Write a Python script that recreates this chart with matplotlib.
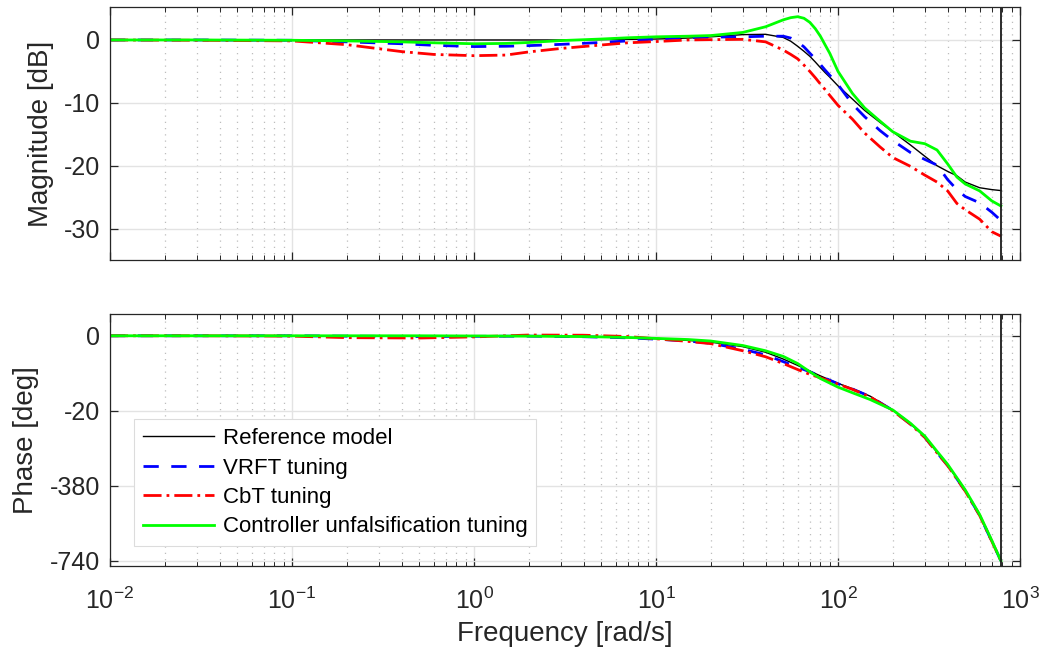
import numpy as np
import matplotlib
matplotlib.use("Agg")
import matplotlib.pyplot as plt
from matplotlib.ticker import LogLocator, NullLocator, NullFormatter, FixedLocator

plt.rcParams['font.family'] = ['Liberation Sans', 'DejaVu Sans']
plt.rcParams['axes.unicode_minus'] = False
plt.rcParams['mathtext.fontset'] = 'custom'
plt.rcParams['mathtext.rm'] = 'Liberation Sans'

# ---- data (rad/s, dB, deg) ----
w_mag = [0.01, 0.03, 0.1, 0.2, 0.4, 0.6, 1, 1.5, 2, 3, 5, 7, 10, 15, 20, 30, 40, 50,
         55, 60, 65, 70, 75, 80, 85, 90, 100, 120, 140, 170, 200, 250, 300, 350, 400,
         450, 500, 600, 700, 785]
mag_ref = [0, 0, 0, 0, 0, 0, 0, 0, 0, 0, 0.05, 0.1, 0.15, 0.3, 0.5, 0.85, 0.9, 0.4,
           -0.2, -1.0, -1.8, -2.6, -3.5, -4.4, -5.2, -5.9, -7.3, -9.4, -11.2, -13.1,
           -14.6, -16.7, -18.5, -20.0, -20.9, -21.6, -22.6, -23.5, -23.8, -23.95]
mag_vrft = [0, 0, -0.05, -0.3, -0.6, -0.85, -1.05, -1.0, -0.9, -0.7, -0.4, -0.15, 0.15,
            0.35, 0.45, 0.5, 0.6, 0.6, 0.3, -0.3, -1.1, -2.1, -3.0, -3.9, -4.8, -5.6,
            -7.1, -10.2, -12.2, -14.4, -16.0, -17.9, -19.0, -19.9, -22.2, -23.8, -24.9,
            -25.9, -27.4, -28.7]
mag_cbt = [0, -0.05, -0.15, -0.75, -1.85, -2.3, -2.5, -2.4, -1.9, -1.35, -0.8, -0.45,
           -0.25, 0, 0.05, 0.1, -0.3, -1.6, -2.3, -3.0, -4.0, -5.0, -6.0, -7.0, -7.9,
           -8.8, -10.4, -12.6, -14.8, -17.0, -18.7, -20.1, -21.5, -22.6, -24.0, -26.0,
           -27.0, -28.5, -30.5, -31.2]
mag_cu = [0, 0, -0.05, -0.15, -0.3, -0.45, -0.6, -0.55, -0.4, -0.1, 0.15, 0.35, 0.5,
          0.6, 0.7, 1.2, 2.1, 3.2, 3.55, 3.7, 3.45, 2.8, 1.8, 0.6, -0.8, -2.1, -5.0,
          -8.5, -10.8, -12.9, -14.6, -16.1, -16.5, -17.5, -19.7, -21.8, -22.9, -24.0,
          -25.6, -26.4]

w_ph = [0.01, 0.03, 0.1, 0.2, 0.5, 1, 2, 4, 7, 10, 15, 20, 30, 40, 50, 60, 70, 80, 100,
        120, 150, 200, 250, 300, 350, 400, 500, 600, 700, 785]
ph_ref = [0, 0, 0, 0, -0.02, -0.05, -0.1, -0.25, -0.5, -0.8, -1.24, -1.7, -2.9, -4.4,
          -6.2, -7.9, -9.4, -10.7, -12.7, -14.1, -16.1, -19.8, -83, -146, -220, -281,
          -404, -521, -646, -740]
ph_vrft = [0, 0, 0, -0.1, -0.2, -0.15, -0.1, -0.25, -0.55, -0.9, -1.4, -2.0, -3.6, -5.1,
           -6.9, -8.4, -9.6, -10.8, -12.8, -14.2, -16.2, -19.9, -84, -147, -221, -282,
           -405, -522, -647, -740]
ph_cbt = [0, 0, -0.1, -0.5, -0.6, -0.3, 0.2, 0.15, -0.2, -0.8, -1.5, -2.1, -4.0, -5.6,
          -7.4, -9.0, -10.3, -11.2, -12.9, -14.3, -16.3, -20.0, -85, -148, -222, -283,
          -406, -523, -647, -740]
ph_cu = [0, 0, 0, 0, 0, -0.05, -0.1, -0.2, -0.45, -0.7, -1.0, -1.4, -2.6, -4.0, -5.5,
         -7.4, -9.6, -11.4, -13.7, -15.2, -17.0, -19.8, -80, -142, -215, -277, -400,
         -518, -643, -740]

w_nyq = 785
labels = ['Reference model', 'VRFT tuning', 'CbT tuning',
          'Controller unfalsification tuning']
ph_ticks = [-740, -380, -20, 0]


# phase axis is stretched: 0..-20 takes one tick step, then 360 deg per step
def ph_fwd(y):
    y = np.asarray(y, float)
    return np.where(y >= -20, y / 20.0, -1 + (y + 20) / 360.0)


def ph_inv(u):
    u = np.asarray(u, float)
    return np.where(u >= -1, u * 20.0, -20 + (u + 1) * 360.0)


txt = '#262626'
fig = plt.figure(figsize=(10.42, 6.55), dpi=100)
ax1 = fig.add_axes([0.1056, 0.603, 0.8733, 0.3859])
ax2 = fig.add_axes([0.1056, 0.1363, 0.8733, 0.3837])

styles = [dict(color='k', lw=1.0),
          dict(color=(0, 0, 1), lw=2.0, dashes=(5.5, 4.5)),
          dict(color=(1, 0, 0), lw=2.0, dashes=(6.5, 1.8, 1, 1.8)),
          dict(color=(0, 1, 0), lw=2.0)]

for y, st, lab in zip([mag_ref, mag_vrft, mag_cbt, mag_cu], styles, labels):
    ax1.plot(w_mag, y, label=lab, **st)
for y, st, lab in zip([ph_ref, ph_vrft, ph_cbt, ph_cu], styles, labels):
    ax2.plot(w_ph, y, label=lab, **st)

ax2.set_yscale('function', functions=(ph_fwd, ph_inv))

for ax in (ax1, ax2):
    ax.axvline(w_nyq, color='#1a1a1a', lw=1.3)
    ax.set_xscale('log')
    ax.set_xlim(1e-2, 1e3)
    ax.xaxis.set_major_locator(LogLocator(base=10, numticks=20))
    ax.xaxis.set_minor_locator(LogLocator(base=10, subs=np.arange(2, 10), numticks=20))
    ax.xaxis.set_minor_formatter(NullFormatter())
    ax.yaxis.set_minor_locator(NullLocator())
    ax.grid(True, which='major', color='#e3e3e3', lw=1.0, ls='-')
    ax.grid(True, which='minor', axis='x', color='#bdbdbd', lw=0.9, ls=(0, (1, 4)))
    ax.set_axisbelow(True)
    ax.tick_params(which='both', direction='in', top=True, right=True,
                   colors=txt, labelsize=18, labelcolor=txt)
    ax.tick_params(which='major', length=6, width=0.9)
    ax.tick_params(which='minor', length=3.5, width=0.7)
    ax.tick_params(axis='y', pad=7)
    ax.tick_params(axis='x', pad=16)
    for s in ax.spines.values():
        s.set_color(txt)
        s.set_linewidth(0.9)

ax1.set_ylim(-35, 5.2)
ax1.set_yticks([-30, -20, -10, 0])
ax1.tick_params(labelbottom=False)
ax1.set_ylabel('Magnitude [dB]', fontsize=20, color=txt, labelpad=7)

ax2.set_ylim(-764, 5.7)
ax2.yaxis.set_major_locator(FixedLocator(ph_ticks))
ax2.set_yticklabels([str(t) for t in ph_ticks])
ax2.set_ylabel('Phase [deg]', fontsize=20, color=txt, labelpad=8)
ax2.set_xlabel('Frequency [rad/s]', fontsize=20, color=txt, labelpad=5)

leg = ax2.legend(loc='lower left', bbox_to_anchor=(0.026, 0.077), borderaxespad=0,
                 fontsize=16, frameon=True, fancybox=False, framealpha=1,
                 edgecolor='#dcdcdc', handlelength=3.2, handletextpad=0.4,
                 labelspacing=0.38, borderpad=0.4)
leg.get_frame().set_linewidth(0.8)
for t in leg.get_texts():
    t.set_color('k')

fig.savefig('out.png', dpi=100)
